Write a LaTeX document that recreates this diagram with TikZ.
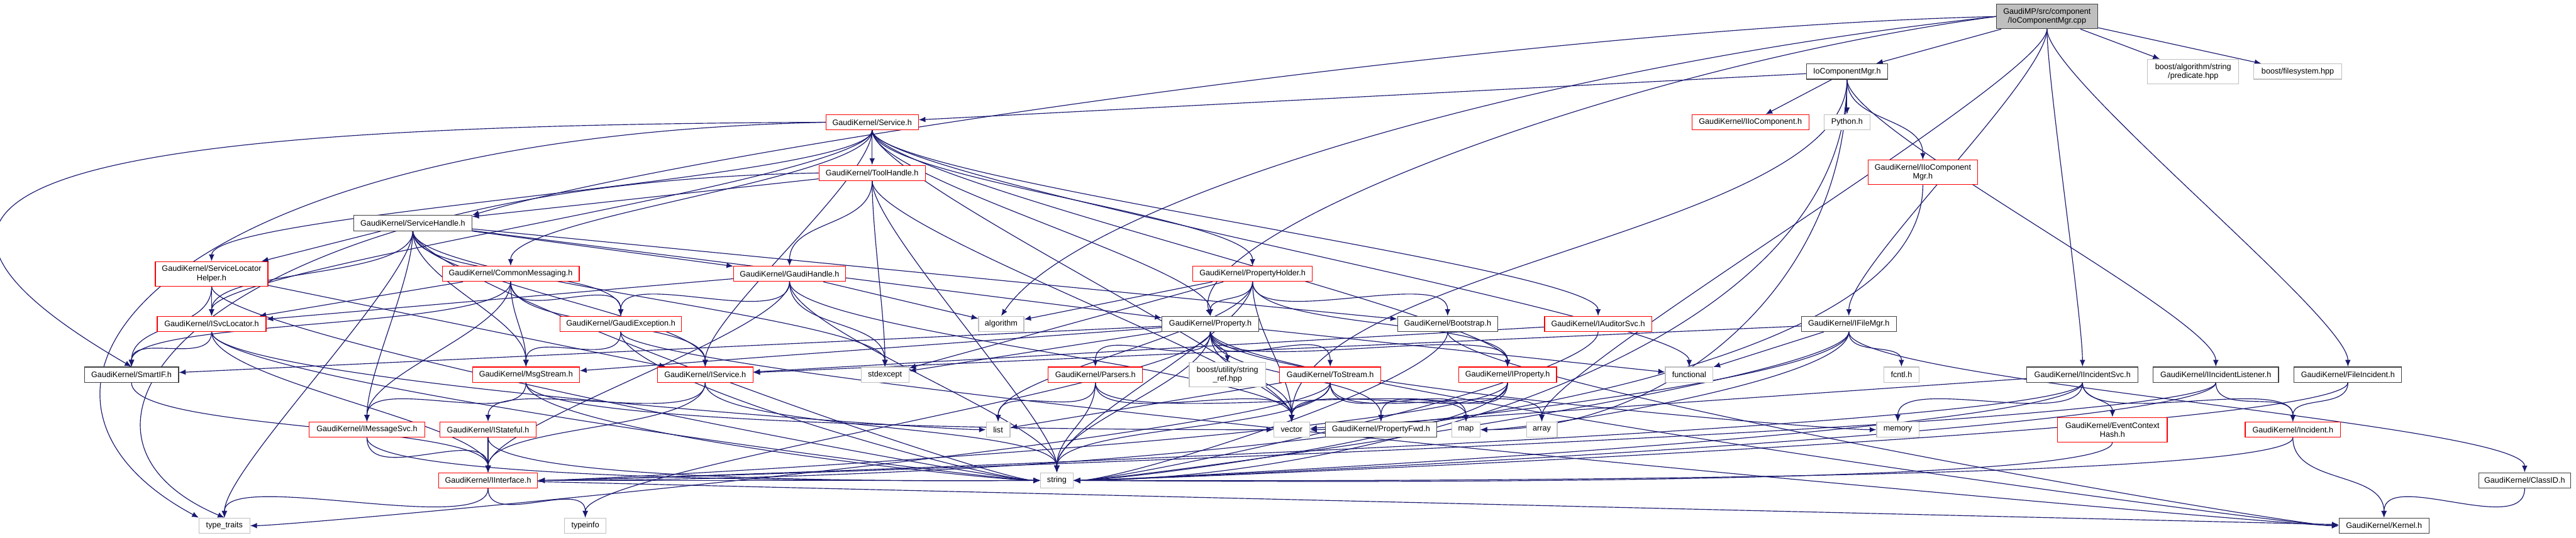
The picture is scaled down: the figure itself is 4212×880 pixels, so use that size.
\documentclass[tikz,border=0pt]{standalone}
\usepackage{fontspec}
\setmainfont{Liberation Sans}
\usetikzlibrary{arrows.meta,backgrounds}
\definecolor{edgeblue}{HTML}{191970}
\definecolor{truncred}{HTML}{FF0000}
\definecolor{sysgrey}{HTML}{BFBFBF}
\definecolor{plainedge}{HTML}{404040}
\tikzset{
  file/.style={draw, fill=white, inner sep=0pt, minimum height=2.5pt,
               align=center, font=\fontsize{1.3}{1.45}\selectfont, line width=0.12pt},
  redfile/.style={file, draw=truncred},
  plainfile/.style={file, draw=plainedge},
  sysfile/.style={file, draw=sysgrey},
  rootfile/.style={file, draw=plainedge, fill=sysgrey, minimum height=4pt},
  flat/.style={-{Latex[length=1.1pt,width=0.9pt]}, draw=edgeblue, line width=0.12pt},
  dep/.style={flat, out=-90, in=90, max distance=8pt},
  depw/.style={dep, in=180},
  depe/.style={dep, in=0},
}

\begin{document}
\begin{tikzpicture}[x=0.1pt, y=-0.1pt]
    \useasboundingbox (0,0) rectangle (4212,880);
    % top of the graph
    \node[rootfile, minimum width=16.6pt] (root) at (3347, 27) {GaudiMP/src/component\\/IoComponentMgr.cpp};
    \node[plainfile, minimum width=13.3pt] (iocmgr) at (3020, 117) {IoComponentMgr.h};
    \node[sysfile, minimum width=14.9pt, minimum height=4pt] (boostalg) at (3586, 117) {boost/algorithm/string\\/predicate.hpp};
    \node[sysfile, minimum width=14.4pt] (boostfs) at (3757, 117) {boost/filesystem.hpp};
    \node[redfile, minimum width=15.1pt] (service) at (1426, 200) {GaudiKernel/Service.h};
    \node[redfile, minimum width=19.1pt] (iiocomp) at (2862, 200) {GaudiKernel/IIoComponent.h};
    \node[sysfile, minimum width=7.5pt] (python) at (3020, 200) {Python.h};
    \node[redfile, minimum width=17.4pt] (toolhandle) at (1426, 283) {GaudiKernel/ToolHandle.h};
    \node[redfile, minimum width=17.9pt, minimum height=4pt] (iiocompmgr) at (3144, 282) {GaudiKernel/IIoComponent\\Mgr.h};
    \node[plainfile, minimum width=19.3pt] (servicehandle) at (675, 365) {GaudiKernel/ServiceHandle.h};
    % middle rows
    \node[redfile, minimum width=18.4pt, minimum height=4pt] (slh) at (346, 448) {GaudiKernel/ServiceLocator\\Helper.h};
    \node[redfile, minimum width=22.4pt] (commonmsg) at (835, 448) {GaudiKernel/CommonMessaging.h};
    \node[redfile, minimum width=18.3pt] (gaudihandle) at (1291, 448) {GaudiKernel/GaudiHandle.h};
    \node[redfile, minimum width=19.5pt] (propholder) at (2048, 448) {GaudiKernel/PropertyHolder.h};
    \node[redfile, minimum width=17.8pt] (isvcloc) at (346, 530) {GaudiKernel/ISvcLocator.h};
    \node[redfile, minimum width=19.9pt] (gaudiexc) at (1015, 530) {GaudiKernel/GaudiException.h};
    \node[sysfile, minimum width=7.4pt] (algorithm) at (1637, 530) {algorithm};
    \node[plainfile, minimum width=15.8pt] (property) at (1979, 530) {GaudiKernel/Property.h};
    \node[plainfile, minimum width=16.4pt] (bootstrap) at (2367, 530) {GaudiKernel/Bootstrap.h};
    \node[redfile, minimum width=17.5pt] (iauditorsvc) at (2613, 530) {GaudiKernel/IAuditorSvc.h};
    \node[plainfile, minimum width=15.5pt] (ifilemgr) at (3023, 530) {GaudiKernel/IFileMgr.h};
    \node[plainfile, minimum width=15.4pt] (smartif) at (215, 613) {GaudiKernel/SmartIF.h};
    \node[redfile, minimum width=17.5pt] (msgstream) at (860, 613) {GaudiKernel/MsgStream.h};
    \node[redfile, minimum width=15.6pt] (iservice) at (1153, 613) {GaudiKernel/IService.h};
    \node[sysfile, minimum width=7.8pt] (stdexcept) at (1447, 613) {stdexcept};
    \node[redfile, minimum width=15.4pt] (parsers) at (1791, 613) {GaudiKernel/Parsers.h};
    \node[sysfile, minimum width=12.5pt, minimum height=4pt] (stringref) at (2007, 613) {boost/utility/string\\\_ref.hpp};
    \node[redfile, minimum width=16.6pt] (tostream) at (2175, 613) {GaudiKernel/ToStream.h};
    \node[redfile, minimum width=16pt] (iproperty) at (2465, 613) {GaudiKernel/IProperty.h};
    \node[sysfile, minimum width=7.8pt] (functional) at (2762, 613) {functional};
    \node[sysfile, minimum width=5.8pt] (fcntl) at (3109, 613) {fcntl.h};
    \node[plainfile, minimum width=18.2pt] (iincsvc) at (3405, 613) {GaudiKernel/IIncidentSvc.h};
    \node[plainfile, minimum width=20.5pt] (iinclistener) at (3623, 613) {GaudiKernel/IIncidentListener.h};
    \node[plainfile, minimum width=17.6pt] (fileinc) at (3839, 613) {GaudiKernel/FileIncident.h};
    \node[redfile, minimum width=18.9pt] (imsgsvc) at (600, 703) {GaudiKernel/IMessageSvc.h};
    \node[redfile, minimum width=15.8pt] (istateful) at (798, 703) {GaudiKernel/IStateful.h};
    \node[sysfile, minimum width=3.9pt] (list) at (1632, 703) {list};
    \node[sysfile, minimum width=5.9pt] (vector) at (2112, 703) {vector};
    \node[plainfile, minimum width=18.2pt] (propfwd) at (2258, 703) {GaudiKernel/PropertyFwd.h};
    \node[sysfile, minimum width=4.6pt] (map) at (2397, 703) {map};
    \node[sysfile, minimum width=5pt] (array) at (2521, 703) {array};
    \node[sysfile, minimum width=6.9pt] (memory) at (3103, 703) {memory};
    \node[redfile, minimum width=17.9pt, minimum height=4pt] (evctxhash) at (3454, 703) {GaudiKernel/EventContext\\Hash.h};
    \node[redfile, minimum width=15.6pt] (incident) at (3749, 703) {GaudiKernel/Incident.h};
    % bottom rows
    \node[redfile, minimum width=16.2pt] (iinterface) at (798, 786) {GaudiKernel/IInterface.h};
    \node[sysfile, minimum width=5.3pt] (string) at (1728, 786) {string};
    \node[plainfile, minimum width=15pt] (classid) at (4128, 786) {GaudiKernel/ClassID.h};
    \node[sysfile, minimum width=8.3pt] (typetraits) at (367, 860) {type\_traits};
    \node[sysfile, minimum width=6.8pt] (typeinfo) at (957, 860) {typeinfo};
    \node[plainfile, minimum width=14.7pt] (kernel) at (3898, 860) {GaudiKernel/Kernel.h};

    \begin{scope}[on background layer]
    % long sweeping includes
    \draw[flat] (root.west) .. controls (2500,45) and (1150,240) .. (servicehandle.north east);
    \draw[flat] (root.west) .. controls (2500,110) and (1760,330) .. (algorithm.north);
    \draw[flat] (root.west) .. controls (2650,110) and (1940,380) .. (property.north);
    \draw[flat] (service.west) .. controls (150,205) and (-320,290) .. (smartif.north);
    \draw[flat] (service.west) .. controls (250,225) and (-60,640) .. (typetraits.north west);
    \draw[flat] (toolhandle.west) .. controls (350,300) and (20,700) .. (typetraits.north);
    \path (root) edge[flat] (iocmgr)
          edge[dep] (ifilemgr) edge[dep] (array) edge[dep] (iincsvc) edge[dep] (fileinc)
          edge[flat] (boostalg) edge[flat] (boostfs);
    \path (iocmgr) edge[flat] (service) edge[flat] (iiocomp) edge[dep] (python)
          edge[dep] (iiocompmgr) edge[dep] (iinclistener) edge[depe, max distance=45pt] (string)
          edge[depe, max distance=35pt] (map) edge[dep, max distance=25pt] (vector);
    \path (iiocompmgr) edge[depe, max distance=45pt] (iinterface);
    \path (service) edge[dep] (isvcloc)
          edge[dep] (slh) edge[dep] (toolhandle) edge[dep] (commonmsg) edge[dep] (iservice)
          edge[dep] (propholder) edge[dep] (property) edge[dep] (iauditorsvc)
          edge[dep] (iproperty) edge[dep] (functional) edge[dep] (vector);
    \path (toolhandle) edge[flat] (servicehandle) edge[dep] (gaudihandle)
          edge[dep] (stdexcept) edge[dep] (vector) edge[dep] (string);
    \path (servicehandle) edge[flat] (slh) edge[dep] (isvcloc) edge[dep] (imsgsvc)
          edge[dep] (msgstream) edge[dep] (iservice) edge[dep] (gaudiexc) edge[flat] (gaudihandle)
          edge[flat] (bootstrap) edge[flat] (property) edge[dep] (stdexcept) edge[depw] (string)
          edge[dep] (typetraits);
    \path (slh) edge[dep] (smartif) edge[dep] (isvcloc) edge[flat] (iservice) edge[depw] (string);
    \path (commonmsg) edge[dep] (smartif) edge[flat] (isvcloc) edge[dep] (imsgsvc)
          edge[dep] (msgstream) edge[dep] (gaudiexc) edge[dep] (iservice);
    \path (gaudihandle) edge[flat] (isvcloc) edge[dep] (iinterface) edge[dep] (gaudiexc)
          edge[flat] (algorithm) edge[dep] (string) edge[dep] (stdexcept) edge[dep] (vector);
    \path (propholder) edge[flat] (algorithm) edge[flat] (stdexcept) edge[dep] (property)
          edge[dep] (iproperty) edge[dep] (bootstrap) edge[dep] (list) edge[dep] (string)
          edge[dep] (vector);
    \path (isvcloc) edge[dep] (smartif) edge[dep] (iinterface) edge[depw] (list) edge[depw] (string);
    \path (gaudiexc) edge[dep] (msgstream) edge[depw] (string) edge[depw] (kernel);
    \path (property) edge[flat] (smartif) edge[flat] (msgstream) edge[flat] (stdexcept)
          edge[dep] (parsers) edge[dep] (stringref) edge[dep] (tostream) edge[dep] (iproperty)
          edge[dep] (propfwd) edge[dep] (vector) edge[dep] (string) edge[dep] (typeinfo)
          edge[depw] (kernel) edge[flat] (functional) edge[depw] (memory);
    \path (bootstrap) edge[depe] (string) edge[depw] (kernel);
    \path (iauditorsvc) edge[flat] (iservice) edge[depe] (string);
    \path (ifilemgr) edge[dep] (classid) edge[dep] (fcntl) edge[flat] (functional)
          edge[depe] (map) edge[depe] (string) edge[depe] (vector) edge[flat] (iservice);
    \path (smartif) edge[dep] (iinterface);
    \path (msgstream) edge[dep] (imsgsvc) edge[depw] (string) edge[depw] (vector);
    \path (iservice) edge[dep] (istateful) edge[dep] (string) edge[dep] (iinterface);
    \path (parsers) edge[dep] (list) edge[dep] (string) edge[dep] (vector) edge[dep] (map);
    \path (tostream) edge[flat] (list) edge[dep] (string) edge[dep] (vector) edge[dep] (map)
          edge[dep] (array) edge[depe] (typetraits);
    \path (iproperty) edge[dep] (vector) edge[dep] (propfwd) edge[depe] (string) edge[depe] (iinterface);
    \path (iincsvc) edge[flat] (vector) edge[dep] (memory) edge[depe] (string)
          edge[depe] (iinterface) edge[dep] (evctxhash) edge[dep] (incident);
    \path (iinclistener) edge[dep] (incident) edge[depe] (iinterface) edge[depe] (string);
    \path (fileinc) edge[dep] (incident) edge[depe] (string);
    \path (imsgsvc) edge[dep] (iinterface) edge[depw] (string);
    \path (istateful) edge[dep] (iinterface) edge[depw] (string);
    \path (evctxhash) edge[depe] (string);
    \path (incident) edge[dep] (kernel) edge[depe] (string);
    \path (iinterface) edge[dep] (typeinfo) edge[dep] (typetraits) edge[flat] (string) edge[flat] (kernel);
    \path (classid) edge[dep] (kernel);
    \end{scope}
\end{tikzpicture}
\end{document}
